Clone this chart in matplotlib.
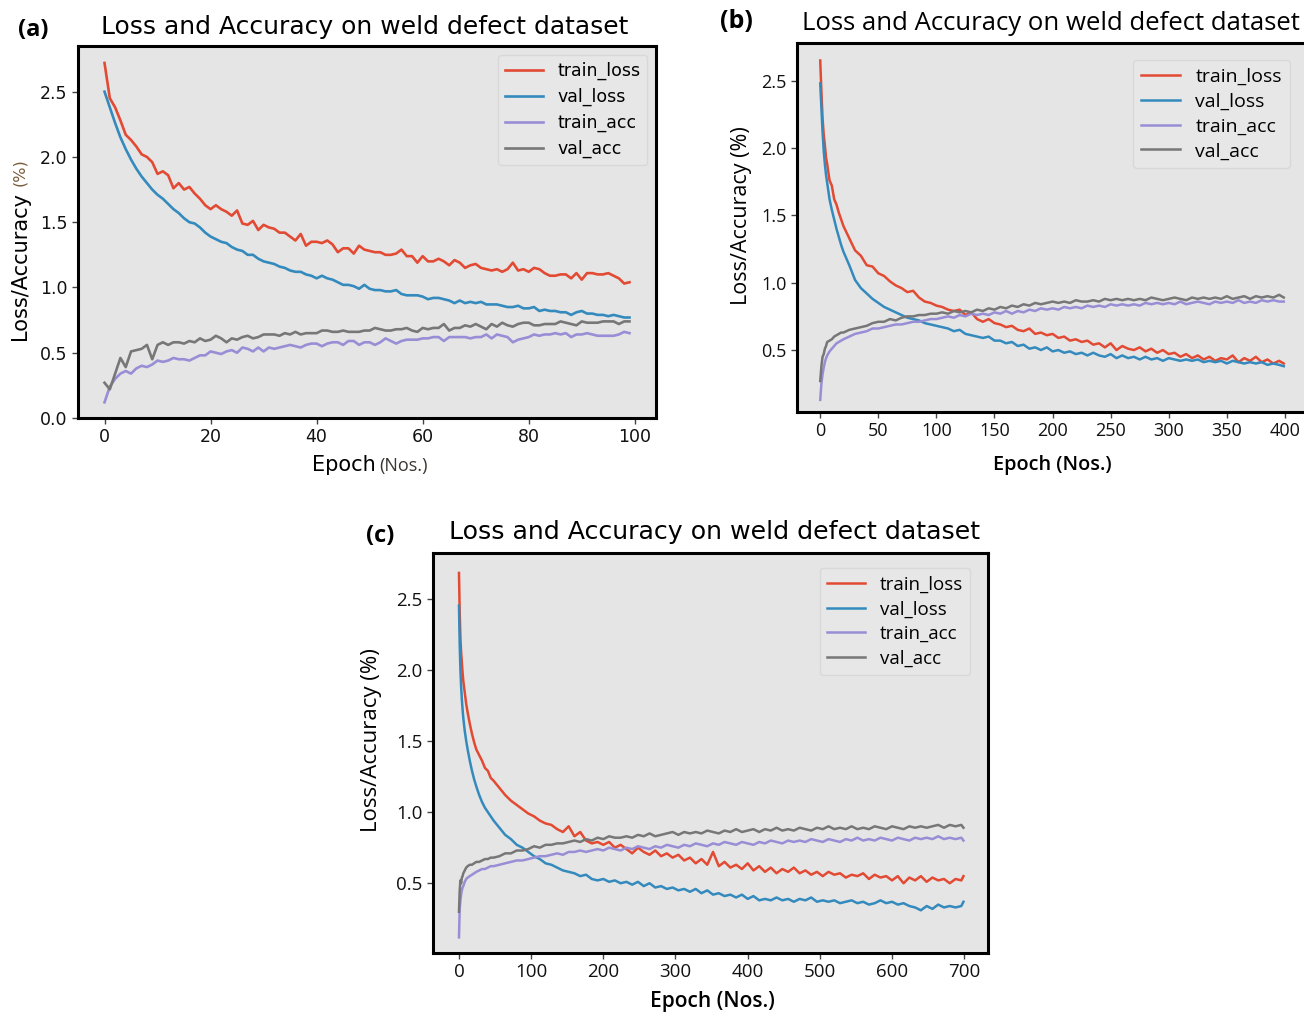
import matplotlib
matplotlib.use("Agg")
import matplotlib.pyplot as plt
from matplotlib import font_manager

# ---------------- data ----------------
series_names = ["train_loss", "val_loss", "train_acc", "val_acc"]
series_colors = ["#E24A33", "#348ABD", "#988ED5", "#777777"]

# panel (a): 100 epochs
epochs_a = list(range(100))
train_loss_a = [2.72, 2.45, 2.38, 2.28, 2.17, 2.13, 2.08, 2.02, 2.00, 1.96,
                1.87, 1.89, 1.86, 1.76, 1.80, 1.75, 1.77, 1.72, 1.68, 1.63,
                1.60, 1.63, 1.60, 1.58, 1.55, 1.59, 1.49, 1.48, 1.51, 1.44,
                1.48, 1.46, 1.45, 1.42, 1.42, 1.39, 1.36, 1.41, 1.32, 1.35,
                1.35, 1.34, 1.36, 1.33, 1.27, 1.30, 1.30, 1.26, 1.32, 1.29,
                1.28, 1.27, 1.27, 1.25, 1.25, 1.26, 1.29, 1.24, 1.24, 1.19,
                1.24, 1.20, 1.20, 1.22, 1.20, 1.17, 1.21, 1.19, 1.15, 1.17,
                1.18, 1.15, 1.14, 1.13, 1.14, 1.12, 1.14, 1.19, 1.13, 1.14,
                1.12, 1.15, 1.14, 1.11, 1.09, 1.09, 1.10, 1.10, 1.07, 1.11,
                1.06, 1.11, 1.11, 1.10, 1.10, 1.11, 1.09, 1.07, 1.03, 1.04]
val_loss_a = [2.50, 2.38, 2.26, 2.15, 2.06, 1.98, 1.91, 1.85, 1.80, 1.75,
              1.71, 1.68, 1.64, 1.60, 1.57, 1.53, 1.50, 1.49, 1.46, 1.42,
              1.39, 1.37, 1.35, 1.34, 1.31, 1.29, 1.28, 1.25, 1.25, 1.22,
              1.20, 1.19, 1.18, 1.16, 1.15, 1.13, 1.12, 1.12, 1.10, 1.09,
              1.07, 1.09, 1.07, 1.06, 1.04, 1.02, 1.02, 1.01, 0.99, 1.02,
              0.99, 0.98, 0.98, 0.97, 0.97, 0.98, 0.95, 0.94, 0.94, 0.94,
              0.93, 0.91, 0.92, 0.92, 0.91, 0.90, 0.88, 0.90, 0.88, 0.89,
              0.88, 0.89, 0.87, 0.87, 0.87, 0.86, 0.85, 0.85, 0.86, 0.84,
              0.84, 0.85, 0.82, 0.83, 0.82, 0.82, 0.81, 0.81, 0.79, 0.81,
              0.82, 0.80, 0.80, 0.79, 0.79, 0.78, 0.79, 0.78, 0.77, 0.77]
train_acc_a = [0.12, 0.24, 0.30, 0.34, 0.36, 0.34, 0.38, 0.40, 0.39, 0.41,
               0.44, 0.43, 0.44, 0.46, 0.45, 0.45, 0.44, 0.46, 0.48, 0.48,
               0.51, 0.50, 0.49, 0.51, 0.52, 0.50, 0.54, 0.53, 0.51, 0.54,
               0.51, 0.54, 0.53, 0.54, 0.55, 0.56, 0.55, 0.54, 0.56, 0.57,
               0.57, 0.55, 0.57, 0.58, 0.58, 0.56, 0.59, 0.59, 0.56, 0.58,
               0.58, 0.56, 0.58, 0.61, 0.59, 0.57, 0.59, 0.60, 0.60, 0.60,
               0.61, 0.61, 0.62, 0.62, 0.59, 0.62, 0.62, 0.62, 0.62, 0.61,
               0.62, 0.62, 0.64, 0.61, 0.64, 0.63, 0.62, 0.58, 0.60, 0.61,
               0.62, 0.64, 0.63, 0.64, 0.64, 0.65, 0.64, 0.65, 0.62, 0.64,
               0.64, 0.65, 0.64, 0.63, 0.63, 0.63, 0.63, 0.64, 0.66, 0.65]
val_acc_a = [0.27, 0.22, 0.34, 0.46, 0.39, 0.51, 0.52, 0.53, 0.56, 0.45,
             0.56, 0.58, 0.56, 0.58, 0.58, 0.57, 0.59, 0.58, 0.61, 0.59,
             0.60, 0.63, 0.61, 0.58, 0.61, 0.60, 0.62, 0.63, 0.61, 0.62,
             0.64, 0.64, 0.64, 0.63, 0.65, 0.64, 0.66, 0.64, 0.65, 0.65,
             0.65, 0.67, 0.67, 0.66, 0.66, 0.67, 0.66, 0.66, 0.66, 0.67,
             0.67, 0.69, 0.68, 0.67, 0.67, 0.68, 0.68, 0.69, 0.67, 0.66,
             0.69, 0.68, 0.69, 0.69, 0.72, 0.67, 0.69, 0.69, 0.71, 0.70,
             0.72, 0.70, 0.68, 0.72, 0.70, 0.73, 0.71, 0.70, 0.72, 0.73,
             0.73, 0.71, 0.71, 0.72, 0.72, 0.72, 0.74, 0.73, 0.72, 0.71,
             0.74, 0.73, 0.73, 0.73, 0.74, 0.74, 0.74, 0.72, 0.74, 0.74]

# panel (b): 400 epochs (sampled)
epochs_b = [0, 1, 2, 3, 4, 5, 6, 8, 10, 12, 14, 16, 18, 20,
            25, 30, 35, 40, 45, 50, 55, 60, 65, 70, 75, 80, 85, 90, 95, 100,
            105, 110, 115, 120, 125, 130, 135, 140, 145, 150, 155, 160, 165, 170,
            175, 180, 185, 190, 195, 200, 205, 210, 215, 220, 225, 230, 235, 240,
            245, 250, 255, 260, 265, 270, 275, 280, 285, 290, 295, 300, 305, 310,
            315, 320, 325, 330, 335, 340, 345, 350, 355, 360, 365, 370, 375, 380,
            385, 390, 395, 399]
train_loss_b = [2.65, 2.42, 2.22, 2.10, 2.02, 1.93, 1.88, 1.76, 1.72, 1.62, 1.58, 1.52, 1.47, 1.42,
                1.33, 1.24, 1.20, 1.13, 1.12, 1.07, 1.05, 1.01, 0.98, 0.96, 0.93, 0.94, 0.89, 0.86, 0.85, 0.83,
                0.82, 0.80, 0.79, 0.80, 0.76, 0.78, 0.73, 0.71, 0.73, 0.70, 0.69, 0.67, 0.68, 0.65,
                0.64, 0.66, 0.62, 0.63, 0.61, 0.62, 0.59, 0.60, 0.57, 0.58, 0.56, 0.57, 0.54, 0.55,
                0.52, 0.55, 0.50, 0.53, 0.51, 0.50, 0.52, 0.49, 0.51, 0.48, 0.50, 0.47, 0.48, 0.45,
                0.47, 0.44, 0.46, 0.43, 0.45, 0.42, 0.44, 0.43, 0.46, 0.41, 0.44, 0.42, 0.45, 0.41,
                0.43, 0.40, 0.42, 0.40]
val_loss_b = [2.48, 2.30, 2.12, 1.98, 1.88, 1.80, 1.74, 1.62, 1.54, 1.47, 1.40, 1.34, 1.28, 1.23,
              1.13, 1.02, 0.96, 0.92, 0.88, 0.85, 0.82, 0.80, 0.78, 0.76, 0.74, 0.73, 0.72, 0.70, 0.69, 0.68,
              0.67, 0.66, 0.64, 0.65, 0.62, 0.61, 0.60, 0.59, 0.60, 0.57, 0.57, 0.55, 0.56, 0.53,
              0.54, 0.51, 0.52, 0.50, 0.52, 0.49, 0.50, 0.48, 0.49, 0.47, 0.48, 0.46, 0.48, 0.46,
              0.45, 0.47, 0.44, 0.46, 0.44, 0.45, 0.43, 0.45, 0.43, 0.44, 0.42, 0.44, 0.43, 0.42,
              0.43, 0.42, 0.43, 0.41, 0.42, 0.41, 0.42, 0.40, 0.42, 0.41, 0.40, 0.41, 0.40, 0.41,
              0.39, 0.40, 0.39, 0.38]
train_acc_b = [0.13, 0.25, 0.32, 0.37, 0.41, 0.44, 0.46, 0.49, 0.51, 0.53, 0.55, 0.56, 0.57, 0.58,
               0.60, 0.62, 0.63, 0.64, 0.66, 0.66, 0.67, 0.68, 0.69, 0.69, 0.70, 0.71, 0.71, 0.72, 0.73, 0.73,
               0.74, 0.75, 0.74, 0.76, 0.75, 0.77, 0.76, 0.77, 0.76, 0.78, 0.77, 0.79, 0.77, 0.79,
               0.78, 0.80, 0.79, 0.81, 0.80, 0.81, 0.80, 0.82, 0.81, 0.82, 0.81, 0.83, 0.82, 0.83,
               0.82, 0.84, 0.83, 0.84, 0.83, 0.84, 0.83, 0.85, 0.84, 0.85, 0.84, 0.85, 0.84, 0.86,
               0.84, 0.85, 0.86, 0.85, 0.84, 0.86, 0.85, 0.86, 0.85, 0.87, 0.85, 0.86, 0.85, 0.87,
               0.86, 0.87, 0.86, 0.86]
val_acc_b = [0.27, 0.38, 0.45, 0.47, 0.51, 0.53, 0.56, 0.57, 0.58, 0.60, 0.61, 0.62, 0.63, 0.63,
             0.65, 0.66, 0.67, 0.68, 0.70, 0.71, 0.71, 0.73, 0.72, 0.74, 0.75, 0.75, 0.76, 0.76, 0.77, 0.77,
             0.78, 0.77, 0.79, 0.78, 0.79, 0.78, 0.80, 0.79, 0.81, 0.80, 0.82, 0.81, 0.83, 0.82,
             0.84, 0.83, 0.85, 0.84, 0.85, 0.86, 0.85, 0.86, 0.85, 0.87, 0.86, 0.86, 0.87, 0.86,
             0.88, 0.87, 0.88, 0.87, 0.88, 0.87, 0.88, 0.87, 0.89, 0.88, 0.87, 0.88, 0.89, 0.88,
             0.87, 0.89, 0.88, 0.89, 0.88, 0.89, 0.88, 0.90, 0.88, 0.89, 0.90, 0.88, 0.90, 0.89,
             0.90, 0.89, 0.91, 0.89]

# panel (c): 700 epochs (sampled)
epochs_c = [0, 1, 2, 3, 4, 5, 6, 8, 10, 12, 15, 18, 21, 24, 28, 32, 36, 40, 44, 48,
            56, 64, 72, 80, 88, 96, 104, 112, 120, 128, 136, 144, 152, 160, 168, 176,
            184, 192, 200, 208, 216, 224, 232, 240, 248, 256, 264, 272, 280, 288, 296,
            304, 312, 320, 328, 336, 344, 352, 360, 368, 376, 384, 392, 400, 408, 416,
            424, 432, 440, 448, 456, 464, 472, 480, 488, 496, 504, 512, 520, 528, 536,
            544, 552, 560, 568, 576, 584, 592, 600, 608, 616, 624, 632, 640, 648, 656,
            664, 672, 680, 688, 696, 699]
train_loss_c = [2.68, 2.40, 2.22, 2.12, 2.05, 1.98, 1.92, 1.84, 1.76, 1.70, 1.62, 1.55, 1.49, 1.44, 1.40, 1.36, 1.31, 1.29, 1.24, 1.22,
                1.17, 1.12, 1.08, 1.05, 1.02, 0.99, 0.97, 0.94, 0.92, 0.91, 0.88, 0.86, 0.90, 0.83, 0.86, 0.80,
                0.78, 0.79, 0.77, 0.79, 0.75, 0.77, 0.74, 0.71, 0.75, 0.72, 0.70, 0.73, 0.69, 0.71, 0.68,
                0.70, 0.66, 0.68, 0.64, 0.67, 0.63, 0.72, 0.62, 0.65, 0.61, 0.63, 0.60, 0.64, 0.59, 0.62,
                0.58, 0.61, 0.57, 0.60, 0.58, 0.61, 0.57, 0.59, 0.56, 0.58, 0.55, 0.58, 0.56, 0.57, 0.54,
                0.56, 0.55, 0.57, 0.53, 0.56, 0.54, 0.55, 0.52, 0.55, 0.50, 0.54, 0.52, 0.55, 0.51, 0.54,
                0.52, 0.53, 0.50, 0.53, 0.52, 0.55]
val_loss_c = [2.45, 2.18, 2.00, 1.88, 1.79, 1.72, 1.66, 1.57, 1.50, 1.44, 1.36, 1.29, 1.23, 1.18, 1.12, 1.07, 1.03, 1.00, 0.97, 0.94,
              0.89, 0.84, 0.81, 0.77, 0.75, 0.72, 0.69, 0.67, 0.64, 0.63, 0.61, 0.59, 0.58, 0.57, 0.55, 0.56,
              0.53, 0.52, 0.53, 0.51, 0.52, 0.50, 0.51, 0.49, 0.51, 0.48, 0.50, 0.47, 0.48, 0.46, 0.47,
              0.45, 0.46, 0.44, 0.46, 0.43, 0.45, 0.42, 0.43, 0.41, 0.42, 0.40, 0.42, 0.39, 0.41, 0.38,
              0.39, 0.38, 0.40, 0.38, 0.39, 0.37, 0.39, 0.38, 0.40, 0.37, 0.38, 0.37, 0.38, 0.36, 0.37,
              0.38, 0.36, 0.37, 0.35, 0.36, 0.38, 0.36, 0.37, 0.35, 0.36, 0.34, 0.33, 0.31, 0.34, 0.32,
              0.35, 0.33, 0.34, 0.33, 0.34, 0.37]
train_acc_c = [0.12, 0.32, 0.38, 0.42, 0.45, 0.47, 0.48, 0.51, 0.53, 0.54, 0.55, 0.56, 0.57, 0.58, 0.59, 0.60, 0.60, 0.61, 0.62, 0.62,
               0.63, 0.64, 0.65, 0.66, 0.66, 0.67, 0.68, 0.69, 0.69, 0.70, 0.71, 0.70, 0.72, 0.72, 0.73, 0.72,
               0.73, 0.74, 0.73, 0.75, 0.74, 0.73, 0.75, 0.74, 0.76, 0.75, 0.74, 0.76, 0.75, 0.77, 0.76,
               0.75, 0.77, 0.76, 0.78, 0.77, 0.76, 0.78, 0.77, 0.79, 0.78, 0.77, 0.79, 0.78, 0.77, 0.79,
               0.78, 0.80, 0.79, 0.78, 0.80, 0.79, 0.80, 0.79, 0.81, 0.80, 0.79, 0.81, 0.80, 0.79, 0.81,
               0.80, 0.82, 0.80, 0.81, 0.80, 0.82, 0.81, 0.80, 0.82, 0.81, 0.80, 0.82, 0.81, 0.82, 0.81,
               0.83, 0.81, 0.82, 0.81, 0.82, 0.80]
val_acc_c = [0.30, 0.45, 0.52, 0.50, 0.54, 0.55, 0.57, 0.59, 0.61, 0.62, 0.63, 0.63, 0.64, 0.65, 0.65, 0.66, 0.67, 0.67, 0.68, 0.68,
             0.69, 0.71, 0.71, 0.73, 0.73, 0.74, 0.76, 0.75, 0.77, 0.77, 0.78, 0.78, 0.79, 0.80, 0.79, 0.81,
             0.80, 0.82, 0.81, 0.83, 0.82, 0.82, 0.83, 0.82, 0.84, 0.83, 0.85, 0.83, 0.84, 0.85, 0.86,
             0.84, 0.86, 0.85, 0.86, 0.85, 0.87, 0.86, 0.85, 0.87, 0.86, 0.88, 0.86, 0.87, 0.88, 0.86,
             0.88, 0.87, 0.89, 0.87, 0.88, 0.87, 0.89, 0.88, 0.87, 0.89, 0.88, 0.90, 0.88, 0.89, 0.88,
             0.90, 0.88, 0.89, 0.88, 0.90, 0.89, 0.88, 0.90, 0.89, 0.88, 0.90, 0.89, 0.90, 0.89, 0.90,
             0.91, 0.89, 0.91, 0.90, 0.91, 0.89]

title_text = "Loss and Accuracy on weld defect dataset"
xticks_a = [0, 20, 40, 60, 80, 100]
xticks_b = [0, 50, 100, 150, 200, 250, 300, 350, 400]
xticks_c = [0, 100, 200, 300, 400, 500, 600, 700]
yticks_a = [0.0, 0.5, 1.0, 1.5, 2.0, 2.5]
yticks_bc = [0.5, 1.0, 1.5, 2.0, 2.5]

# ---------------- figure ----------------
W, H = 1304, 1013
fig = plt.figure(figsize=(W / 100, H / 100), dpi=100, facecolor="white")

available = {f.name for f in font_manager.fontManager.ttflist}
osans = "Open Sans" if "Open Sans" in available else "DejaVu Sans"


def ax_rect(l, t, r, b):
    return [l / W, 1 - b / H, (r - l) / W, (b - t) / H]


def style_axes(ax, tickfont, ticksize):
    ax.set_facecolor("#E5E5E5")
    for s in ax.spines.values():
        s.set_color("black")
        s.set_linewidth(2.2)
    ax.grid(False)
    ax.tick_params(direction="out", length=4, width=1, color="#444444",
                   labelcolor="#111111", labelsize=ticksize)
    for lab in ax.get_xticklabels() + ax.get_yticklabels():
        lab.set_fontfamily(tickfont)


def draw(ax, x, ys, lw):
    for name, col, y in zip(series_names, series_colors, ys):
        ax.plot(x, y, color=col, lw=lw, label=name)


# ---- panel (a)
axa = fig.add_axes(ax_rect(78, 46, 656, 418))
draw(axa, epochs_a, [train_loss_a, val_loss_a, train_acc_a, val_acc_a], 1.9)
axa.set_xlim(-5.0, 104.0)
axa.set_ylim(0.0, 2.85)
axa.set_xticks(xticks_a)
axa.set_yticks(yticks_a)
style_axes(axa, "DejaVu Sans", 12.5)
la = axa.legend(loc="upper right", fontsize=12.5, frameon=True, facecolor="#E8E8E8",
                edgecolor="#D5D5D5", borderaxespad=0.5, handlelength=2.2, labelspacing=0.45)
la.get_frame().set_linewidth(1.0)
fig.text(365 / W, 1 - 27 / H, title_text, ha="center", va="center", fontsize=18,
         family="DejaVu Sans")
fig.text(33 / W, 1 - 30 / H, "(a)", ha="center", va="center", fontsize=17,
         fontweight="bold", family=osans)
fig.text(376 / W, 1 - 465 / H, "Epoch", ha="right", va="center", fontsize=15,
         family="DejaVu Sans")
fig.text(379 / W, 1 - 466 / H, "(Nos.)", ha="left", va="center", fontsize=13,
         family=osans, color="#3a3530")
fig.text(20 / W, 1 - 266 / H, "Loss/Accuracy", ha="center", va="center", rotation=90,
         fontsize=15, family="DejaVu Sans")
fig.text(20 / W, 1 - 172 / H, "(%)", ha="center", va="center", rotation=90,
         fontsize=11.5, family="DejaVu Sans", color="#7a5a3a")

# ---- panel (b)
axb = fig.add_axes(ax_rect(797, 43, 1307, 412))
draw(axb, epochs_b, [train_loss_b, val_loss_b, train_acc_b, val_acc_b], 1.8)
axb.set_xlim(-20, 419)
axb.set_ylim(0.04, 2.78)
axb.set_xticks(xticks_b)
axb.set_yticks(yticks_bc)
style_axes(axb, osans, 13)
lb = axb.legend(loc="upper right", bbox_to_anchor=(0.985, 0.98),
                frameon=True, facecolor="#E8E8E8", edgecolor="#D5D5D5",
                handlelength=2.0, labelspacing=0.35, prop={"family": osans, "size": 14})
fig.text(1051 / W, 1 - 24 / H, title_text, ha="center", va="center", fontsize=18.5,
         family=osans)
fig.text(736 / W, 1 - 22 / H, "(b)", ha="center", va="center", fontsize=18,
         fontweight="bold", family=osans)
fig.text(1052 / W, 1 - 465 / H, "Epoch (Nos.)", ha="center", va="center", fontsize=14.3,
         family=osans, fontweight="semibold")
fig.text(741 / W, 1 - 216 / H, "Loss/Accuracy (%)", ha="center", va="center",
         rotation=90, fontsize=15.5, family=osans)

# ---- panel (c)
axc = fig.add_axes(ax_rect(433, 553, 988, 953))
draw(axc, epochs_c, [train_loss_c, val_loss_c, train_acc_c, val_acc_c], 1.8)
axc.set_xlim(-36, 733)
axc.set_ylim(0.01, 2.82)
axc.set_xticks(xticks_c)
axc.set_yticks(yticks_bc)
style_axes(axc, osans, 13.5)
lc = axc.legend(loc="upper right", bbox_to_anchor=(0.985, 0.985), frameon=True,
                facecolor="#E8E8E8", edgecolor="#D5D5D5", handlelength=2.0,
                labelspacing=0.35, prop={"family": osans, "size": 13.5})
fig.text(715 / W, 1 - 532 / H, title_text, ha="center", va="center", fontsize=18.2,
         family="DejaVu Sans")
fig.text(380 / W, 1 - 536 / H, "(c)", ha="center", va="center", fontsize=17,
         fontweight="bold", family=osans)
fig.text(712 / W, 1 - 1001 / H, "Epoch (Nos.)", ha="center", va="center", fontsize=15,
         family=osans, fontweight="semibold")
fig.text(372 / W, 1 - 740 / H, "Loss/Accuracy (%)", ha="center", va="center",
         rotation=90, fontsize=16, family=osans)

fig.savefig("out.png", dpi=100, facecolor="white")
